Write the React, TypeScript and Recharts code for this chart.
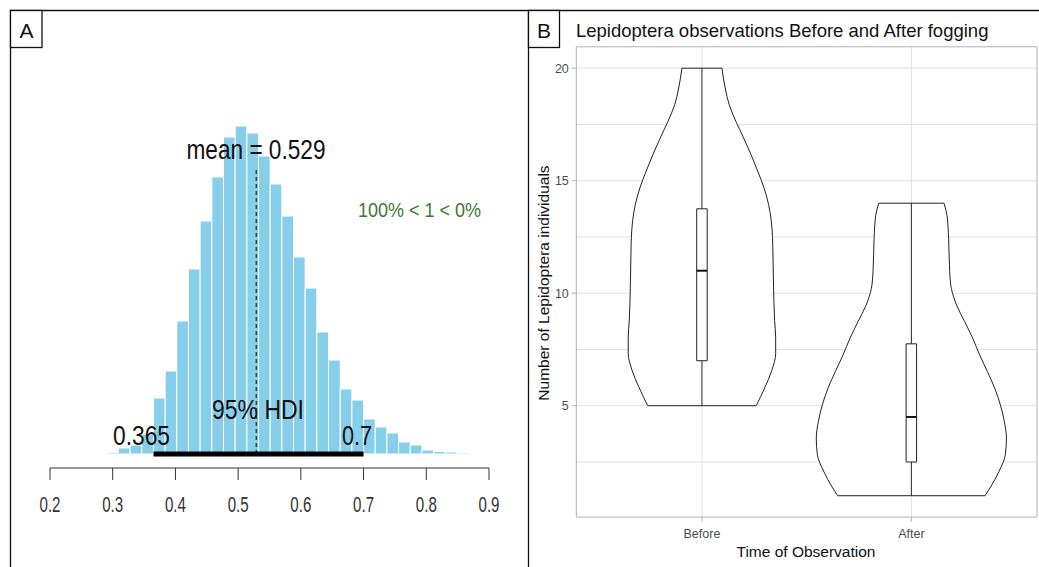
import React from "react";
import {
  ComposedChart,
  XAxis,
  YAxis,
  ReferenceArea,
  ReferenceLine,
  Area,
  CartesianGrid,
} from "recharts";

const FONT = "'Liberation Sans', Arial, Helvetica, sans-serif";

// ---- panel A: posterior histogram ----
const binStarts = [
  0.2906, 0.3092, 0.3278, 0.3464, 0.365, 0.3836, 0.4022, 0.4208, 0.4394, 0.4581,
  0.4767, 0.4953, 0.5139, 0.5325, 0.5511, 0.5697, 0.5883, 0.6069, 0.6255, 0.6442,
  0.6628, 0.6814, 0.7, 0.7186, 0.7372, 0.7558, 0.7744, 0.793, 0.8116, 0.8303,
  0.8489, 0.8675,
];
const binHeights = [
  1.3, 6, 9, 20, 56, 83, 133, 185, 233, 277, 317, 328, 321, 298, 270, 238, 197,
  166, 122, 94, 65, 54, 35, 27, 21, 12, 9, 4, 2.5, 2, 1, 0.5,
];
const binWidth = 0.0186;
const hdi = [0.365, 0.7];
const meanValue = 0.529;
const meanLineTop = 284;
const histTicks = [0.2, 0.3, 0.4, 0.5, 0.6, 0.7, 0.8, 0.9];

// ---- panel B: violins ----
const groups = ["Before", "After"];
const beforeY = [5, 5.84, 6.58, 7.32, 8.05, 8.79, 10.27, 11.74, 12.48, 13.22, 13.95, 14.69, 15.43, 16.17, 16.9, 17.64, 18.38, 19.12, 20];
const beforeHalf = [0.259, 0.302, 0.334, 0.352, 0.352, 0.347, 0.342, 0.339, 0.337, 0.331, 0.318, 0.296, 0.266, 0.234, 0.199, 0.162, 0.13, 0.111, 0.0955];
const afterY = [1, 1.35, 2.09, 2.83, 3.56, 4.3, 5.04, 5.78, 6.52, 7.26, 8.0, 8.73, 9.47, 10.21, 10.95, 12.43, 13.46, 14];
const afterHalf = [0.352, 0.376, 0.419, 0.449, 0.454, 0.444, 0.425, 0.398, 0.363, 0.326, 0.293, 0.255, 0.216, 0.191, 0.183, 0.178, 0.17, 0.156];
// min, q1, median, q3, max
const beforeBox = [5, 7, 11, 13.75, 20];
const afterBox = [1, 2.5, 4.5, 7.75, 14];
const yTicks = [5, 10, 15, 20];
const gridY = [2.5, 5, 7.5, 10, 12.5, 15, 17.5, 20];

const bins = binStarts.map((x0, i) => ({ x0, x1: x0 + binWidth, h: binHeights[i] }));

const violins = [
  { center: 1, ys: beforeY, hw: beforeHalf, box: beforeBox },
  { center: 2, ys: afterY, hw: afterHalf, box: afterBox },
];

const boxHalf = 0.025;
const X_DOMAIN = [0.4, 2.6];
const Y_DOMAIN = [0.05, 20.95];

function HistTick(props: any) {
  const { x, y, payload } = props;
  return (
    <text
      x={x}
      y={y + 30}
      textAnchor="middle"
      fontSize={22}
      textLength={21}
      lengthAdjust="spacingAndGlyphs"
      fill="#333"
      fontFamily={FONT}
    >
      {payload.value.toFixed(1)}
    </text>
  );
}

// one violin per chart; the charts are stacked so each Area keeps its own data
function ViolinLayer({ idx, withAxes }: { idx: number; withAxes: boolean }) {
  const v = violins[idx];
  const rows = v.ys.map((y, i) => ({ y, range: [v.center - v.hw[i], v.center + v.hw[i]] }));
  const n = v.ys.length - 1;
  const [lo, q1, med, q3, hi] = v.box;
  const c = v.center;
  const tickStyle = { fill: "#4d4d4d", fontSize: 12.5, fontFamily: FONT };
  const margin = withAxes
    ? { top: 46.8, right: 2, bottom: 19.9, left: 0 }
    : { top: 46.8, right: 2, bottom: 49.9, left: 48.3 };
  return (
    <ComposedChart layout="vertical" width={511} height={567} data={rows} margin={margin}>
      {withAxes && <CartesianGrid stroke="#e0e0e0" horizontalValues={gridY} verticalValues={[1, 2]} />}
      <XAxis
        type="number"
        domain={X_DOMAIN}
        ticks={[1, 2]}
        allowDataOverflow
        hide={!withAxes}
        interval={0}
        height={30}
        axisLine={false}
        tickLine={{ stroke: "#b3b3b3" }}
        tickSize={4.5}
        tickMargin={8}
        tick={tickStyle}
        tickFormatter={(t: number) => groups[t - 1]}
      />
      <YAxis
        type="number"
        dataKey="y"
        domain={Y_DOMAIN}
        ticks={yTicks}
        reversed
        allowDataOverflow
        hide={!withAxes}
        interval={0}
        width={48.3}
        axisLine={false}
        tickLine={{ stroke: "#b3b3b3" }}
        tickSize={4.5}
        tickMargin={3}
        tick={tickStyle}
      />
      {withAxes && (
        <ReferenceArea x1={X_DOMAIN[0]} x2={X_DOMAIN[1]} y1={Y_DOMAIN[0]} y2={Y_DOMAIN[1]} fill="none" stroke="#b3b3b3" ifOverflow="visible" />
      )}
      <Area dataKey="range" type="monotone" fill="#fff" fillOpacity={1} stroke="#222" strokeWidth={1} dot={false} activeDot={false} isAnimationActive={false} />
      <ReferenceLine segment={[{ x: c - v.hw[0], y: v.ys[0] }, { x: c + v.hw[0], y: v.ys[0] }]} stroke="#222" strokeWidth={1} />
      <ReferenceLine segment={[{ x: c - v.hw[n], y: v.ys[n] }, { x: c + v.hw[n], y: v.ys[n] }]} stroke="#222" strokeWidth={1} />
      <ReferenceLine segment={[{ x: c, y: lo }, { x: c, y: q1 }]} stroke="#222" strokeWidth={1} />
      <ReferenceLine segment={[{ x: c, y: q3 }, { x: c, y: hi }]} stroke="#222" strokeWidth={1} />
      <ReferenceArea x1={c - boxHalf} x2={c + boxHalf} y1={q1} y2={q3} fill="#fff" fillOpacity={1} stroke="#222" strokeWidth={1} zIndex={450} />
      <ReferenceLine segment={[{ x: c - boxHalf, y: med }, { x: c + boxHalf, y: med }]} stroke="#111" strokeWidth={2} zIndex={460} />
    </ComposedChart>
  );
}

export default function App() {
  return (
    <div style={{ position: "absolute", left: 0, top: 0, width: 1039, height: 567, background: "#fff", fontFamily: FONT }}>
      <div style={{ position: "absolute", left: 0, top: 0 }}>
        <ComposedChart width={528} height={567} margin={{ top: 126, right: 39, bottom: 59, left: 50 }}>
          <XAxis
            type="number"
            dataKey="x"
            domain={[0.2, 0.9]}
            ticks={histTicks}
            allowDataOverflow
            interval={0}
            height={40}
            tickSize={12}
            axisLine={{ stroke: "#333" }}
            tickLine={{ stroke: "#333" }}
            tick={<HistTick />}
          />
          <YAxis hide type="number" domain={[-14, 328]} allowDataOverflow />
          {bins.map((b, i) => (
            <ReferenceArea
              key={i}
              x1={b.x0}
              x2={b.x1}
              y1={0}
              y2={b.h}
              fill="#87CEEB"
              fillOpacity={1}
              stroke="#fff"
              strokeWidth={1}
              ifOverflow="visible"
            />
          ))}
          <ReferenceLine
            segment={[{ x: meanValue, y: 0 }, { x: meanValue, y: meanLineTop }]}
            stroke="#2d4657"
            strokeDasharray="4 3"
            strokeWidth={1.5}
          />
          <ReferenceLine
            segment={[{ x: hdi[0], y: 0 }, { x: hdi[1], y: 0 }]}
            stroke="#000"
            strokeWidth={5}
          />
        </ComposedChart>
      </div>

      <div style={{ position: "absolute", left: 528, top: 0 }}>
        <ViolinLayer idx={0} withAxes={true} />
      </div>
      <div style={{ position: "absolute", left: 528, top: 0 }}>
        <ViolinLayer idx={1} withAxes={false} />
      </div>

      <svg width={1039} height={567} style={{ position: "absolute", left: 0, top: 0, pointerEvents: "none" }} fontFamily={FONT}>
        {/* frames */}
        <path d="M10,10.5 H1039 M10.5,10 V567 M528.5,10 V567" stroke="#111" strokeWidth={1.3} fill="none" />
        <rect x={10.5} y={10.5} width={31.5} height={37} fill="#fff" stroke="#111" strokeWidth={1.3} />
        <rect x={528.5} y={10.5} width={31} height={37} fill="#fff" stroke="#111" strokeWidth={1.3} />
        <text x={26.5} y={38} textAnchor="middle" fontSize={21} fill="#111">A</text>
        <text x={544} y={38} textAnchor="middle" fontSize={21} fill="#111">B</text>

        {/* panel A annotations */}
        <text x={256} y={159} textAnchor="middle" fontSize={27} textLength={139} lengthAdjust="spacingAndGlyphs" fill="#111">mean = 0.529</text>
        <text x={258} y={419} textAnchor="middle" fontSize={27} textLength={92} lengthAdjust="spacingAndGlyphs" fill="#111">95% HDI</text>
        <text x={113} y={445} fontSize={27} textLength={57} lengthAdjust="spacingAndGlyphs" fill="#111">0.365</text>
        <text x={342} y={445} fontSize={27} textLength={30} lengthAdjust="spacingAndGlyphs" fill="#111">0.7</text>
        <text x={358} y={217} fontSize={21} textLength={123} lengthAdjust="spacingAndGlyphs" fill="#3b7a32">100% &lt; 1 &lt; 0%</text>

        {/* panel B titles */}
        <text x={576} y={36.5} fontSize={18.5} fill="#111">Lepidoptera observations Before and After fogging</text>
        <text x={806} y={557} textAnchor="middle" fontSize={15.5} fill="#111">Time of Observation</text>
        <text x={549} y={283} textAnchor="middle" fontSize={15.5} fill="#111" transform="rotate(-90 549 283)">Number of Lepidoptera individuals</text>
      </svg>
    </div>
  );
}
